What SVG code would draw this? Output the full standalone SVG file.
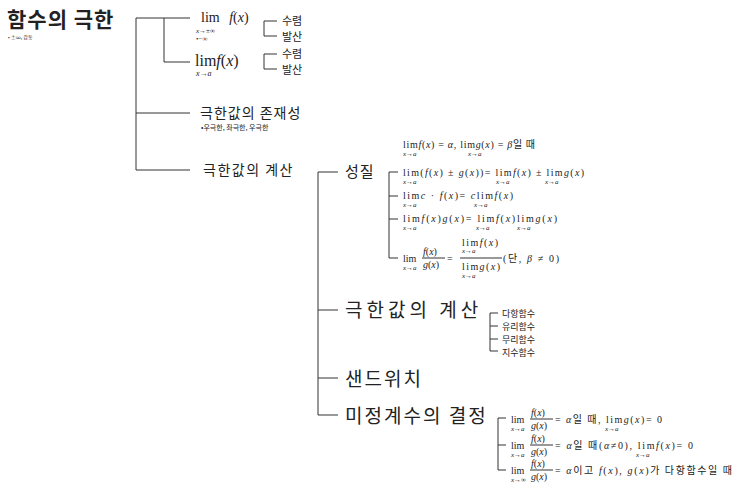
<svg xmlns="http://www.w3.org/2000/svg" width="743" height="493" viewBox="0 0 743 493">
<style>
.k{font-family:"Noto Sans CJK KR","Noto Sans",sans-serif;fill:#222}
.m{font-family:"Liberation Serif",serif;fill:#222}
.i{font-style:italic}
.s{font-size:7px}
line,path{stroke:#333;stroke-width:1;fill:none}
</style>
<rect width="743" height="493" fill="#fff"/>
<g id="connectors">
<path d="M190 18H136V170H190M136 113H190M164 18V62H190"/>
<path d="M277 21H264V36H277M277 54H264V69H277"/>
<path d="M338 172H318V415H338M318 310H338M318 378H338"/>
<path d="M398 172H389V258H398M389 196H398M389 219H398"/>
<path d="M498 313H490V351H498M490 326H498M490 339H498"/>
<path d="M506 418H498V470H506M498 445H506"/>
</g>
<g id="title"><text class="k" x="7" y="27" font-size="21" font-weight="bold" letter-spacing="1">함수의 극한</text><text class="k" x="8" y="39" font-size="5">• ±∞, 감동</text></g>
<g id="n1"><text class="m" x="201" y="22" font-size="14">lim <tspan class="i" dx="6">f</tspan>(<tspan class="i">x</tspan>)</text><text class="m i" x="196" y="33" font-size="7">x→±∞</text><text class="m" x="196" y="41" font-size="7">•−∞</text></g>
<g id="n1a"><text class="k" x="282" y="25" font-size="11">수렴</text><text class="k" x="282" y="41" font-size="11">발산</text></g>
<g id="n2"><text class="m" x="195" y="66" font-size="16">lim<tspan class="i">f</tspan>(<tspan class="i">x</tspan>)</text><text class="m i" x="196" y="76" font-size="8">x→a</text></g>
<g id="n2a"><text class="k" x="282" y="58" font-size="11">수렴</text><text class="k" x="282" y="74" font-size="11">발산</text></g>
<g id="n3"><text class="k" x="200" y="118" font-size="14" letter-spacing="1">극한값의 존재성</text><text class="k" x="201" y="130" font-size="7">•우극한, 좌극한, 우극한</text></g>
<g id="n4"><text class="k" x="203" y="175" font-size="14" letter-spacing="1.5">극한값의 계산</text></g>
<g id="n5"><text class="k" x="345" y="177" font-size="15" letter-spacing="1">성질</text></g>
<g id="p0"><text class="m" x="403" y="148" font-size="10" textLength="132" lengthAdjust="spacing">lim<tspan class="i">f</tspan>(<tspan class="i">x</tspan>) = <tspan class="i">α</tspan>, lim<tspan class="i">g</tspan>(<tspan class="i">x</tspan>) = <tspan class="i">β</tspan><tspan class="k">일 때</tspan></text><text class="m i s" x="403" y="156">x→a</text><text class="m i s" x="468" y="156">x→a</text></g>
<g id="p1"><text class="m" x="403" y="176" font-size="10" textLength="181" lengthAdjust="spacing">lim(<tspan class="i">f</tspan>(<tspan class="i">x</tspan>) ± <tspan class="i">g</tspan>(<tspan class="i">x</tspan>))= lim<tspan class="i">f</tspan>(<tspan class="i">x</tspan>) ± lim<tspan class="i">g</tspan>(<tspan class="i">x</tspan>)</text><text class="m i s" x="403" y="184">x→a</text><text class="m i s" x="496" y="184">x→a</text><text class="m i s" x="545" y="184">x→a</text></g>
<g id="p2"><text class="m" x="403" y="199" font-size="10" textLength="110" lengthAdjust="spacing">lim<tspan class="i">c</tspan> · <tspan class="i">f</tspan>(<tspan class="i">x</tspan>)= <tspan class="i">c</tspan>lim<tspan class="i">f</tspan>(<tspan class="i">x</tspan>)</text><text class="m i s" x="403" y="207">x→a</text><text class="m i s" x="474" y="207">x→a</text></g>
<g id="p3"><text class="m" x="403" y="222" font-size="10" textLength="154" lengthAdjust="spacing">lim<tspan class="i">f</tspan>(<tspan class="i">x</tspan>)<tspan class="i">g</tspan>(<tspan class="i">x</tspan>)= lim<tspan class="i">f</tspan>(<tspan class="i">x</tspan>)lim<tspan class="i">g</tspan>(<tspan class="i">x</tspan>)</text><text class="m i s" x="403" y="230">x→a</text><text class="m i s" x="476" y="230">x→a</text><text class="m i s" x="517" y="230">x→a</text></g>
<g id="p4"><text class="m" x="403" y="262" font-size="10">lim</text><text class="m i s" x="403" y="270">x→a</text><text class="m" x="423" y="255" font-size="10"><tspan class="i">f</tspan>(<tspan class="i">x</tspan>)</text><line x1="422" y1="258" x2="445" y2="258"/><text class="m" x="423" y="268" font-size="10"><tspan class="i">g</tspan>(<tspan class="i">x</tspan>)</text><text class="m" x="447" y="262" font-size="10">=</text><text class="m" x="462" y="246" font-size="10" textLength="36" lengthAdjust="spacing">lim<tspan class="i">f</tspan>(<tspan class="i">x</tspan>)</text><text class="m i s" x="462" y="253">x→a</text><line x1="460" y1="258" x2="502" y2="258"/><text class="m" x="462" y="270" font-size="10" textLength="38" lengthAdjust="spacing">lim<tspan class="i">g</tspan>(<tspan class="i">x</tspan>)</text><text class="m i s" x="462" y="278">x→a</text><text class="m" x="503" y="262" font-size="10" textLength="56" lengthAdjust="spacing">(<tspan class="k">단</tspan>, <tspan class="i">β</tspan> ≠ 0)</text></g>
<g id="n6"><text class="k" x="345" y="317" font-size="19" letter-spacing="4">극한값의 계산</text></g>
<g id="n6a"><text class="k" x="502" y="317" font-size="9">다항함수</text><text class="k" x="502" y="330" font-size="9">유리함수</text><text class="k" x="502" y="343" font-size="9">무리함수</text><text class="k" x="502" y="356" font-size="9">지수함수</text></g>
<g id="n7"><text class="k" x="345" y="386" font-size="19" letter-spacing="2">샌드위치</text></g>
<g id="n8"><text class="k" x="345" y="423" font-size="19" letter-spacing="2">미정계수의 결정</text></g>
<g id="q1"><text class="m" x="511" y="423" font-size="10">lim</text><text class="m i s" x="511" y="431">x→a</text><text class="m" x="531" y="416" font-size="10"><tspan class="i">f</tspan>(<tspan class="i">x</tspan>)</text><line x1="530" y1="419" x2="553" y2="419"/><text class="m" x="531" y="429" font-size="10"><tspan class="i">g</tspan>(<tspan class="i">x</tspan>)</text><text class="m" x="555" y="423" font-size="10" textLength="107" lengthAdjust="spacing">= <tspan class="i">α</tspan><tspan class="k">일 때</tspan>, lim<tspan class="i">g</tspan>(<tspan class="i">x</tspan>)= 0</text><text class="m i s" x="605" y="431">x→a</text></g>
<g id="q2"><text class="m" x="511" y="449" font-size="10">lim</text><text class="m i s" x="511" y="457">x→a</text><text class="m" x="531" y="442" font-size="10"><tspan class="i">f</tspan>(<tspan class="i">x</tspan>)</text><line x1="530" y1="445" x2="553" y2="445"/><text class="m" x="531" y="455" font-size="10"><tspan class="i">g</tspan>(<tspan class="i">x</tspan>)</text><text class="m" x="555" y="449" font-size="10" textLength="138" lengthAdjust="spacing">= <tspan class="i">α</tspan><tspan class="k">일 때</tspan>(<tspan class="i">α</tspan>≠0), lim<tspan class="i">f</tspan>(<tspan class="i">x</tspan>)= 0</text><text class="m i s" x="636" y="457">x→a</text></g>
<g id="q3"><text class="m" x="511" y="474" font-size="10">lim</text><text class="m i s" x="511" y="482">x→∞</text><text class="m" x="531" y="467" font-size="10"><tspan class="i">f</tspan>(<tspan class="i">x</tspan>)</text><line x1="530" y1="470" x2="553" y2="470"/><text class="m" x="531" y="480" font-size="10"><tspan class="i">g</tspan>(<tspan class="i">x</tspan>)</text><text class="m" x="555" y="474" font-size="10" textLength="177" lengthAdjust="spacing">= <tspan class="i">α</tspan><tspan class="k">이고</tspan> <tspan class="i">f</tspan>(<tspan class="i">x</tspan>), <tspan class="i">g</tspan>(<tspan class="i">x</tspan>)<tspan class="k">가 다항함수일 때</tspan></text></g>
</svg>
